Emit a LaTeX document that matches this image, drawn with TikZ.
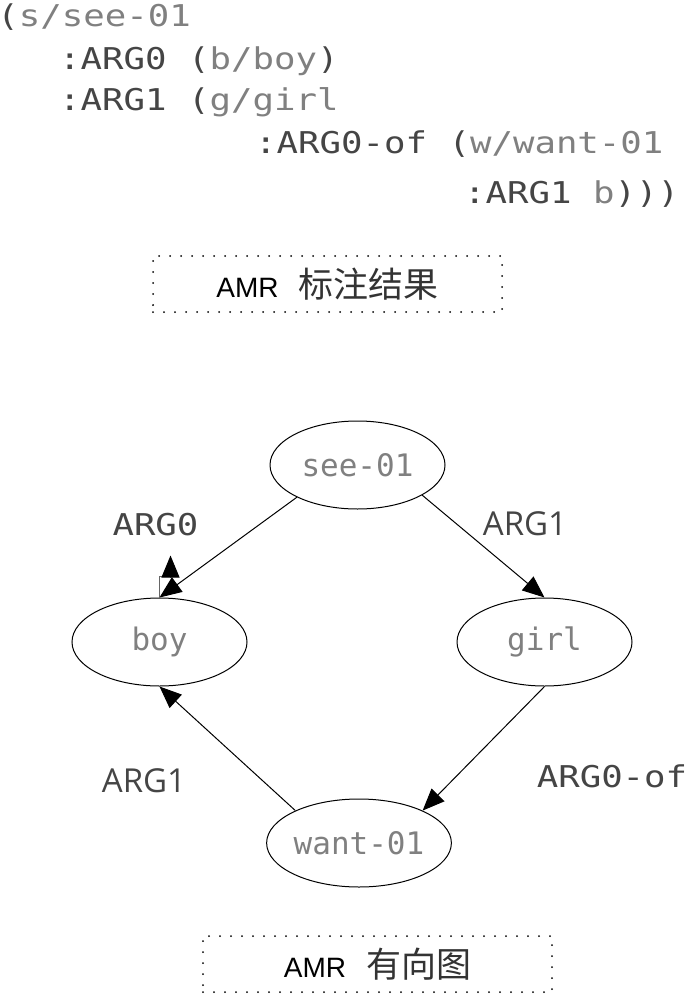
\documentclass[tikz,border=0pt]{standalone}
\usepackage{fontspec}
\setmonofont{DejaVu Sans Mono}
\newfontfamily\codigofonte{DejaVu Sans Mono}[FakeStretch=1.19]
\newfontfamily\rotulo{Open Sans}
\newfontfamily\sigla{Liberation Sans}
\newfontfamily\cjk{Noto Sans CJK SC}
\usetikzlibrary{shapes.geometric,arrows.meta}

\definecolor{conceito}{gray}{0.5}
\definecolor{relacao}{gray}{0.27}
\newcommand\conc[1]{\textcolor{conceito}{#1}}

\tikzset{
  codigo/.style={anchor=base west, inner sep=0pt, text=relacao,
    font=\codigofonte\fontsize{15}{18}\selectfont},
  no/.style={ellipse, draw, line width=0.5pt, minimum width=87.5pt,
    minimum height=44pt, inner sep=0pt, text=conceito,
    font=\ttfamily\fontsize{15.5}{18}\selectfont},
  arco/.style={-{Triangle[length=11pt,width=9pt]}, line width=0.5pt},
  rotulomono/.style={anchor=base, inner sep=0pt, text=relacao,
    font=\codigofonte\fontsize{15}{18}\selectfont},
  rotulosans/.style={anchor=base, inner sep=0pt, text=relacao,
    font=\rotulo\fontsize{16.5}{19}\selectfont},
  caixa/.style={draw, dash pattern=on 0pt off 5.5pt, line cap=round,
    line width=1pt, inner sep=0pt, minimum height=28pt}
}

\begin{document}
\begin{tikzpicture}[x=0.5pt,y=-0.5pt]
            \useasboundingbox (0,0) rectangle (688,995);

            % anotacao AMR
            \node[codigo] (l1) at (-3,27) {(\conc{s/see-01}};
            \node[codigo] (l2) at (58.7,70) {:ARG0 (\conc{b/boy})};
            \node[codigo] (l3) at (58.7,111) {:ARG1 (\conc{g/girl}};
            \node[codigo] (l4) at (254.7,153) {:ARG0-of (\conc{w/want-01}};
            \node[codigo] (l5) at (463.7,203) {:ARG1 \conc{b})))};

            \node[caixa, minimum width=174.5pt] (anot) at (327.5,284)
                {{\sigla\fontsize{14}{16}\selectfont AMR}\hspace{10pt}{\cjk\color{black!80}\fontsize{17.5}{20}\selectfont 标注结果}};

            % grafo
            \node[no] (see) at (357.5,465) {see-01};
            \node[no] (boy) at (159.5,642) {boy};
            \node[no] (girl) at (544.5,642) {girl};
            \node[no] (want) at (359,843) {want-01};

            \draw[arco] (see.208) -- (boy.north);
            \draw[arco] (see.335) -- (girl.north);
            \draw[arco] (girl.south) -- (want.27);
            \draw[arco] (want.153) -- (boy.south);
            \draw[-{Triangle[length=11pt,width=9pt,color=black]}, line width=0.5pt, black!60]
                (boy.north) -- ++(0,-21) -- ++(11,0) -- ++(0,-21);

            \node[rotulomono] (r1) at (155.5,535) {ARG0};
            \node[rotulosans] (r2) at (525,535) {ARG1};
            \node[rotulomono] (r3) at (612,787) {ARG0-of};
            \node[rotulosans] (r4) at (144,792) {ARG1};

            \node[caixa, minimum width=174.5pt] (grafo) at (377.5,964)
                {{\sigla\fontsize{14}{16}\selectfont AMR}\hspace{10pt}{\cjk\color{black!80}\fontsize{17.5}{20}\selectfont 有向图}};
        \end{tikzpicture}
\end{document}
